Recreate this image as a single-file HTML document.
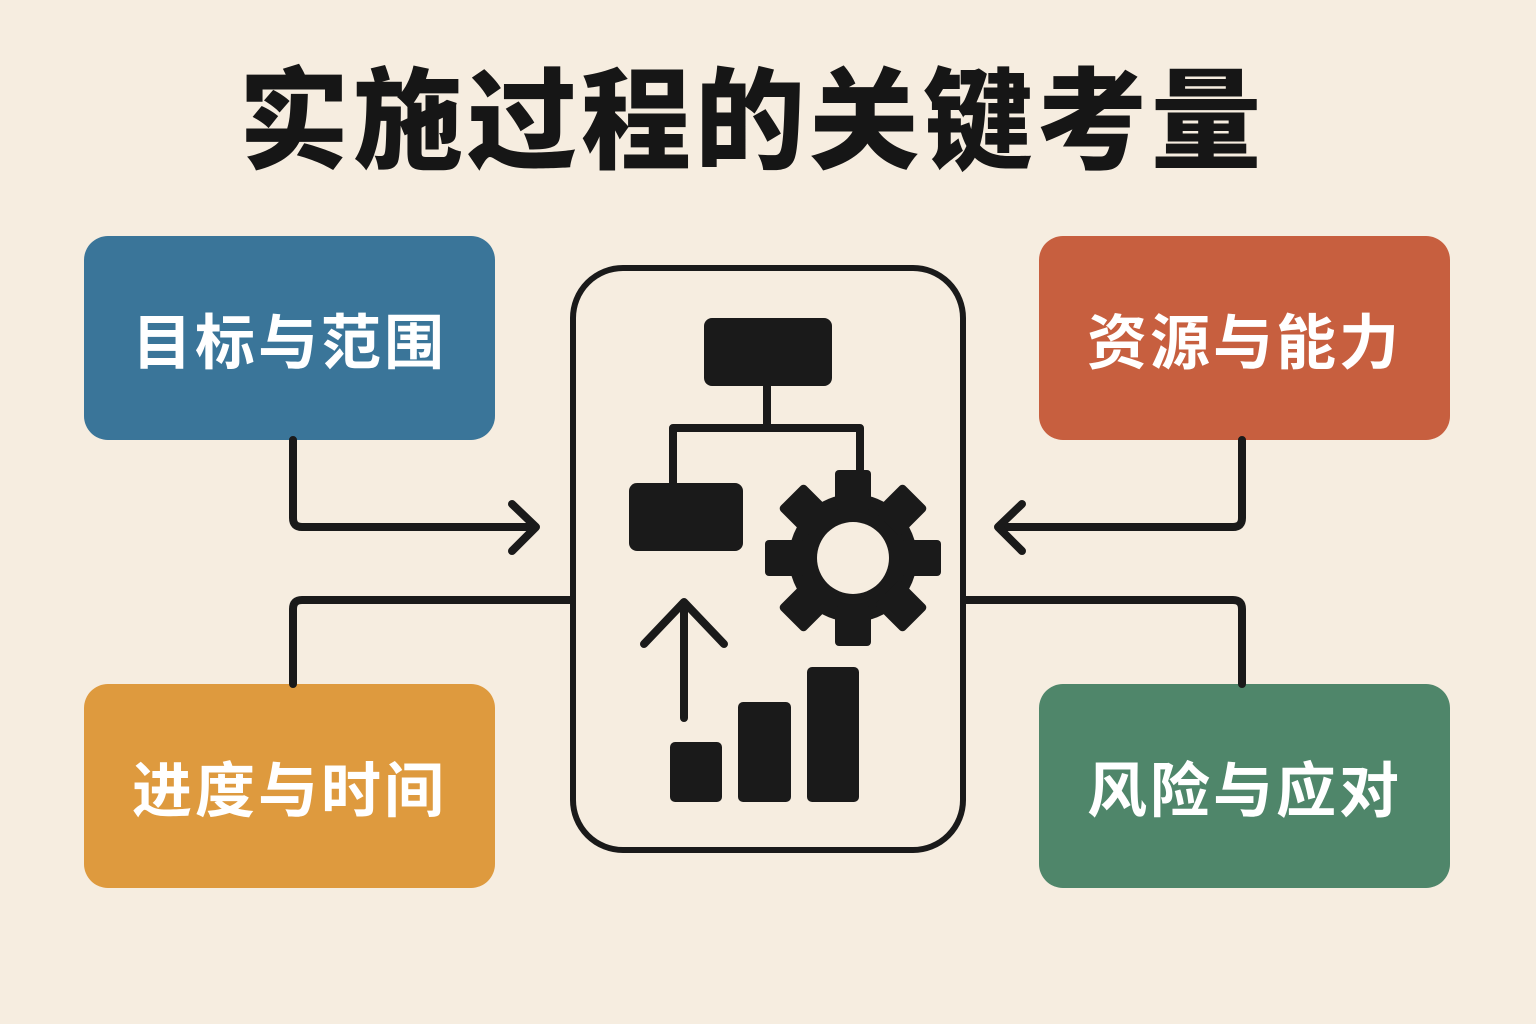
<!DOCTYPE html>
<html><head><meta charset="utf-8"><style>
html,body{margin:0;padding:0}
body{width:1536px;height:1024px;background:#f6ede0;position:relative;overflow:hidden;font-family:"Liberation Sans","Noto Sans CJK SC",sans-serif}
.t{position:absolute;left:-16px;width:1536px;top:58px;text-align:center;font-size:110px;font-weight:900;letter-spacing:4px;color:#161616;line-height:130px}
.b{position:absolute;width:411px;height:204px;border-radius:24px;color:#fff;font-size:60px;font-weight:700;display:flex;align-items:center;justify-content:center;letter-spacing:3px}
</style></head><body>
<div class="t">实施过程的关键考量</div>
<div class="b" style="left:84px;top:236px;background:#3a7599">目标与范围</div>
<div class="b" style="left:1039px;top:236px;background:#c75f3f">资源与能力</div>
<div class="b" style="left:84px;top:684px;background:#de9a3e">进度与时间</div>
<div class="b" style="left:1039px;top:684px;background:#4f866a">风险与应对</div>
<svg width="1536" height="1024" style="position:absolute;left:0;top:0" fill="none" stroke="#1a1a1a" stroke-linecap="round" stroke-linejoin="round">
<rect x="573" y="268" width="390" height="582" rx="50" stroke-width="6"/>
<g stroke-width="8">
<path d="M293 440 V518 Q293 527 302 527 H535"/>
<path d="M512 504 L536 527 L512 551"/>
<path d="M1242 440 V518 Q1242 527 1233 527 H1000"/>
<path d="M1022 504 L998 527 L1022 551"/>
<path d="M293 684 V609 Q293 600 302 600 H571"/>
<path d="M1242 684 V609 Q1242 600 1233 600 H964"/>
<path d="M767 386 V428 M673 484 V428 H860 V475"/>
<path d="M684 718 V604 M644 644 L684 602 L724 644"/>
</g>
<g fill="#1a1a1a" stroke="none">
<rect x="704" y="318" width="128" height="68" rx="8"/>
<rect x="629" y="483" width="114" height="68" rx="8"/>
<rect x="670" y="742" width="52" height="60" rx="5"/>
<rect x="738" y="702" width="53" height="100" rx="5"/>
<rect x="807" y="667" width="52" height="135" rx="5"/>
<g transform="translate(853,558)">
<circle r="64"/>
<rect x="-18" y="-88" width="36" height="40" rx="4"/>
<rect x="-18" y="-88" width="36" height="40" rx="4" transform="rotate(45)"/>
<rect x="-18" y="-88" width="36" height="40" rx="4" transform="rotate(90)"/>
<rect x="-18" y="-88" width="36" height="40" rx="4" transform="rotate(135)"/>
<rect x="-18" y="-88" width="36" height="40" rx="4" transform="rotate(180)"/>
<rect x="-18" y="-88" width="36" height="40" rx="4" transform="rotate(225)"/>
<rect x="-18" y="-88" width="36" height="40" rx="4" transform="rotate(270)"/>
<rect x="-18" y="-88" width="36" height="40" rx="4" transform="rotate(315)"/>
<circle r="36" fill="#f6ede0"/>
</g>
</g>
</svg>
</body></html>
